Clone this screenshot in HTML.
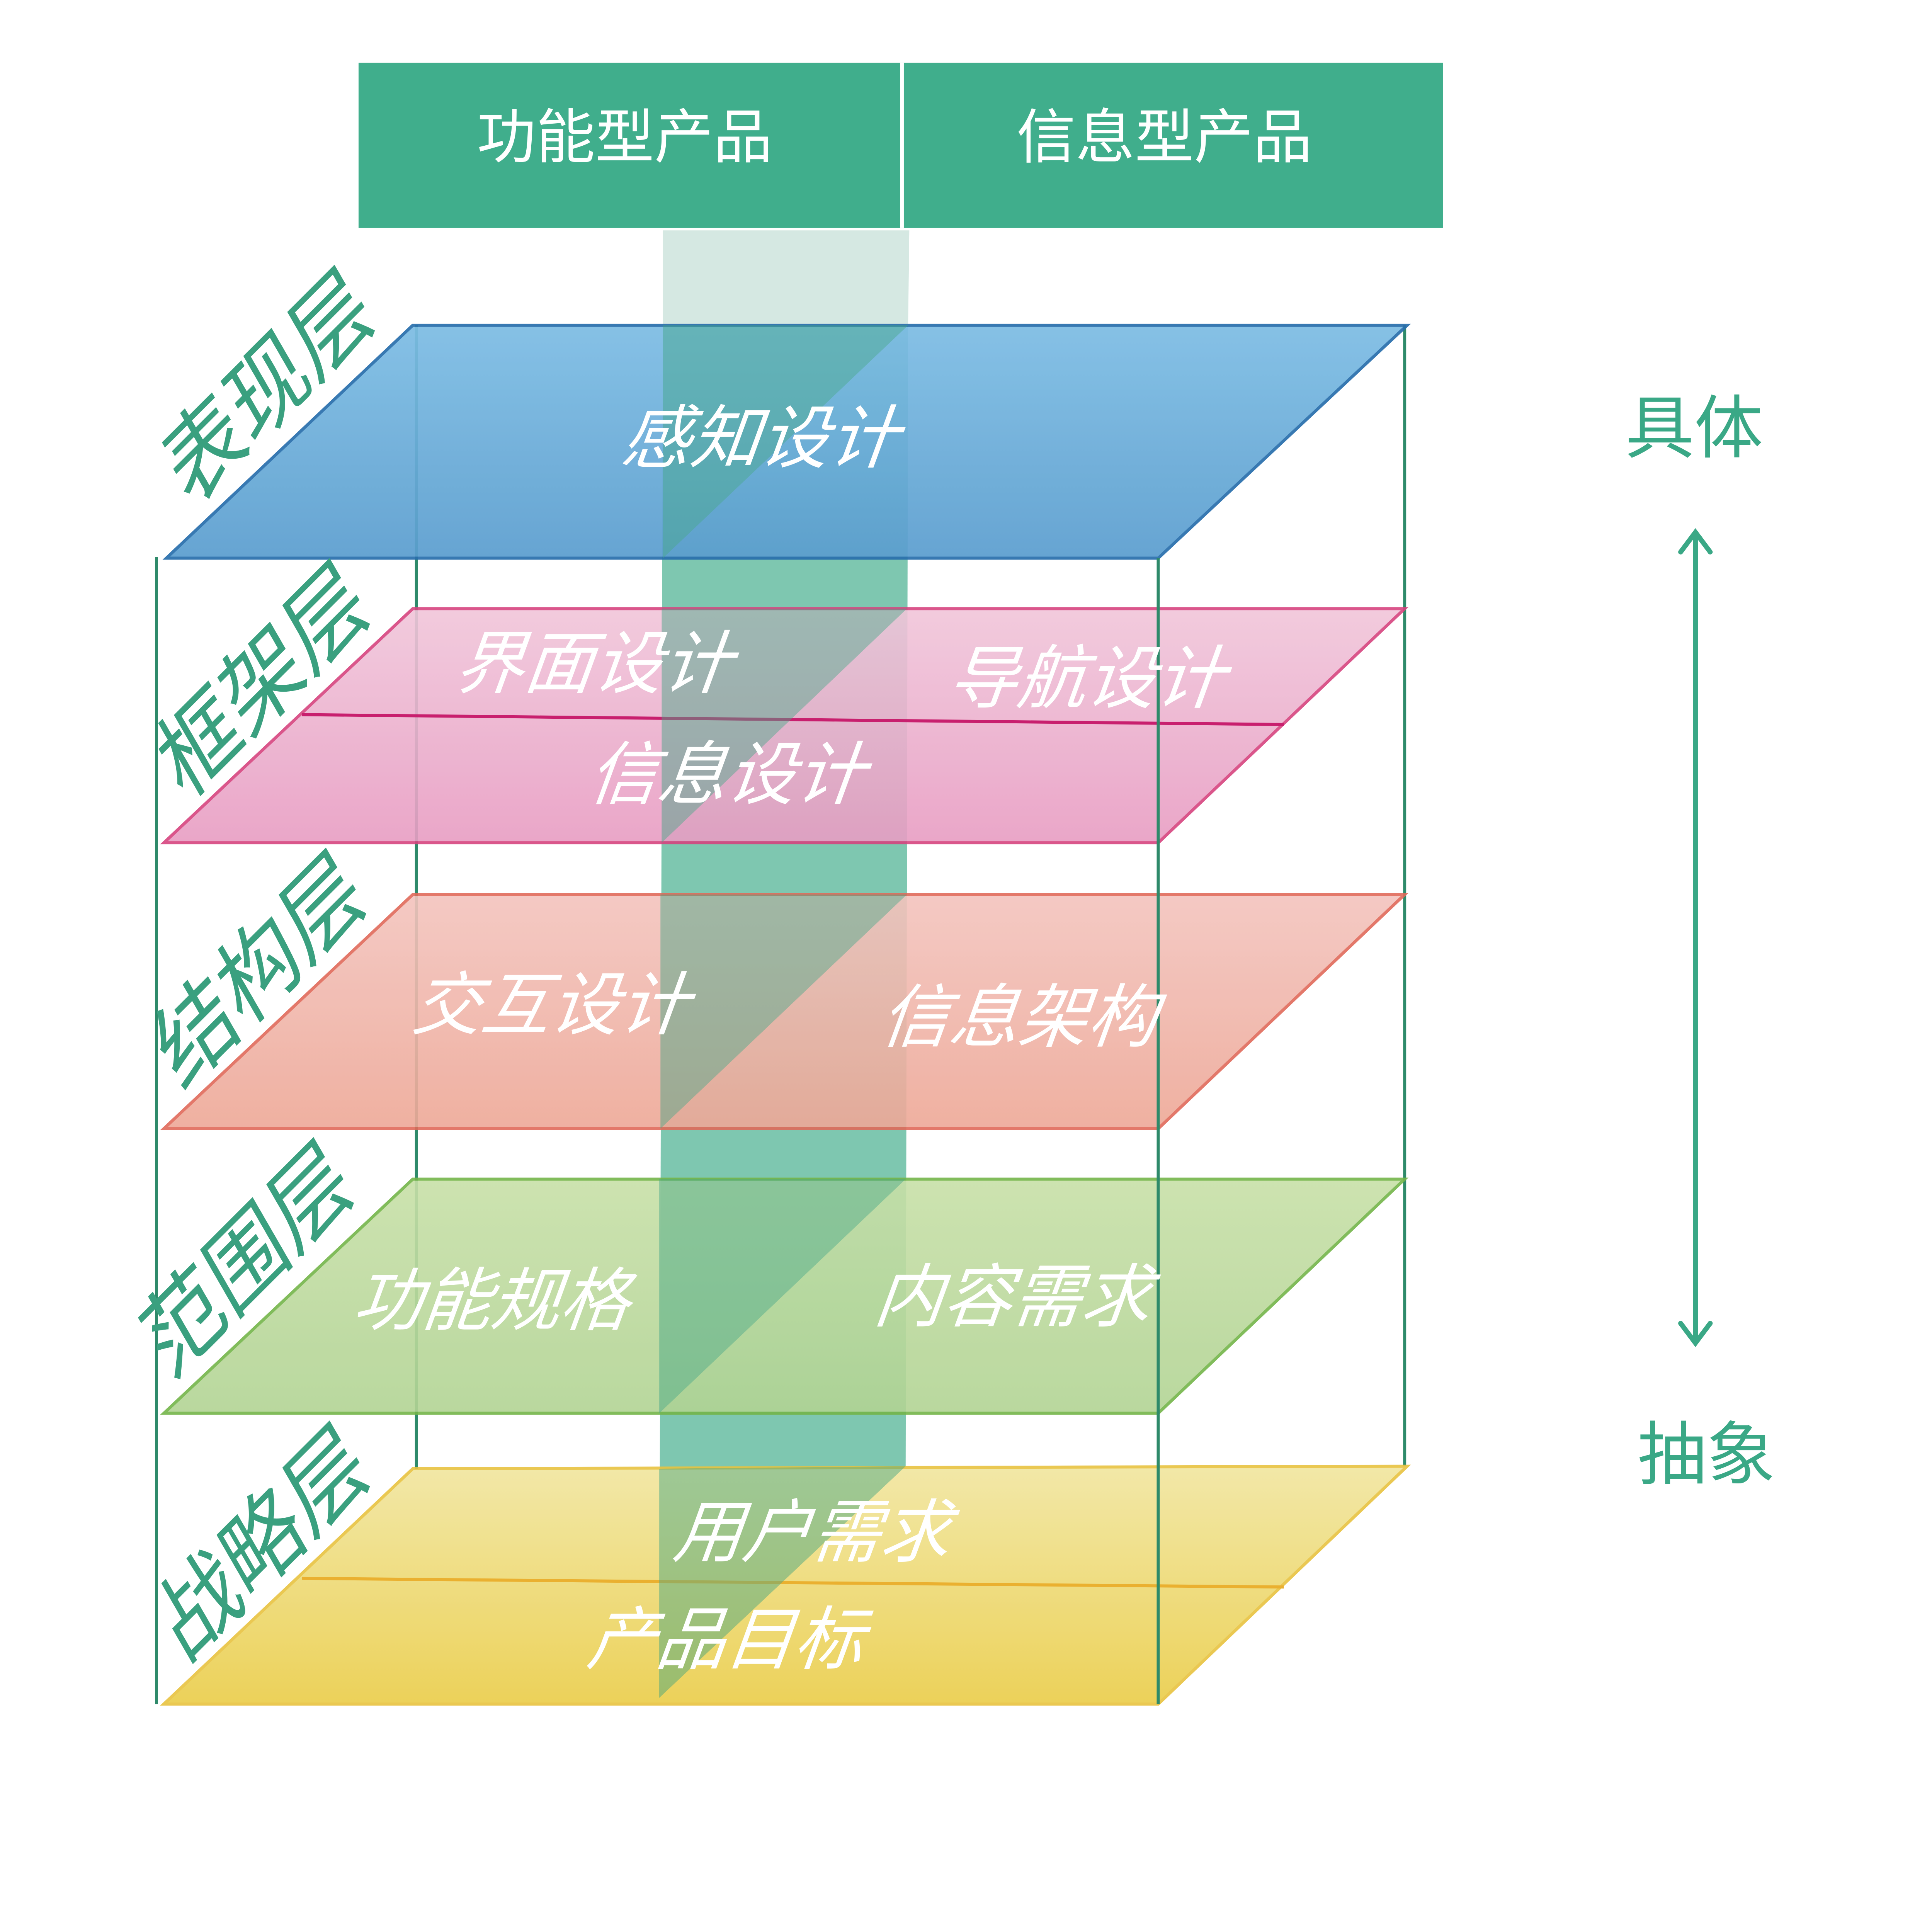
<!DOCTYPE html>
<html><head><meta charset="utf-8">
<style>
html,body{margin:0;padding:0;background:#fff;overflow:hidden;width:100%;height:100%;}
svg{display:block;position:fixed;left:0;top:0;width:100vw;height:100vh;}
text{font-family:"Liberation Sans","Noto Sans CJK SC",sans-serif;}
</style></head>
<body>
<svg xmlns="http://www.w3.org/2000/svg" viewBox="0 0 1568 1568" preserveAspectRatio="none">
<defs>
<linearGradient id="gb" x1="0" y1="0" x2="0" y2="1"><stop offset="0" stop-color="#7dbde4"/><stop offset="1" stop-color="#5b9ecf"/></linearGradient>
<linearGradient id="gp" x1="0" y1="0" x2="0" y2="1"><stop offset="0" stop-color="#f1c6da"/><stop offset="1" stop-color="#e89dc3"/></linearGradient>
<linearGradient id="gs" x1="0" y1="0" x2="0" y2="1"><stop offset="0" stop-color="#f3c4be"/><stop offset="1" stop-color="#eea897"/></linearGradient>
<linearGradient id="gg" x1="0" y1="0" x2="0" y2="1"><stop offset="0" stop-color="#c8e0a8"/><stop offset="1" stop-color="#b2d494"/></linearGradient>
<linearGradient id="gy" x1="0" y1="0" x2="0" y2="1"><stop offset="0" stop-color="#f1e69f"/><stop offset="1" stop-color="#ebcd48"/></linearGradient>
</defs>
<rect width="1568" height="1568" fill="#fff"/>
<rect x="291" y="51" width="880" height="134" fill="#40ae8c"/>
<line x1="732" y1="51" x2="732" y2="185" stroke="#fff" stroke-width="3"/>
<text x="507" y="128" font-size="48" fill="#fff" text-anchor="middle">功能型产品</text>
<text x="945" y="128" font-size="48" fill="#fff" text-anchor="middle">信息型产品</text>
<polygon points="538,187 738,187 737,264 538,264" fill="#d5e8e2"/>
<polygon points="538,264 737,264 735,1190 535,1378" fill="#5ab79a" opacity="0.78"/>
<g stroke="#2e8a6a" stroke-width="2.5">
<line x1="338" y1="264" x2="338" y2="1192"/>
<line x1="1140" y1="264" x2="1140" y2="1190"/>
</g>
<polygon points="135,453 335,264 1142,264 940,453" fill="url(#gb)" opacity="0.93" stroke="#2a6fad" stroke-width="2.5"/>
<polygon points="133,684 335,494 1140,494 940,684" fill="url(#gp)" opacity="0.9" stroke="#d6447f" stroke-width="2.5"/>
<line x1="245" y1="580" x2="1042" y2="588" stroke="#c81f6e" stroke-width="2.5"/>
<polygon points="133,916 335,726 1140,726 940,916" fill="url(#gs)" opacity="0.9" stroke="#e06a5a" stroke-width="2.5"/>
<polygon points="133,1147 335,957 1140,957 940,1147" fill="url(#gg)" opacity="0.9" stroke="#74b54a" stroke-width="2.5"/>
<polygon points="133,1383 335,1192 1142,1190 940,1383" fill="url(#gy)" opacity="0.9" stroke="#e8c340" stroke-width="2.5"/>
<line x1="245" y1="1281" x2="1042" y2="1288" stroke="#eab030" stroke-width="2.5"/>
<g fill="#4aa88a" opacity="0.45">
<polygon points="538,264 737,264 538,453"/>
<polygon points="537,494 736,494 537,684"/>
<polygon points="536,726 736,726 536,916"/>
<polygon points="535,957 735,957 535,1147"/>
<polygon points="535,1192 735,1190 535,1378"/>
</g>
<g stroke="#2e8a6a" stroke-width="2.5">
<line x1="127" y1="452" x2="127" y2="1383"/>
<line x1="940" y1="453" x2="940" y2="1383"/>
</g>
<g font-size="56" fill="#fff" text-anchor="middle">
<text transform="translate(615,375) skewX(-20)">感知设计</text>
<text transform="translate(480,558) skewX(-20)">界面设计</text>
<text transform="translate(880,570) skewX(-20)">导航设计</text>
<text transform="translate(588,648) skewX(-20)">信息设计</text>
<text transform="translate(445,835) skewX(-20)">交互设计</text>
<text transform="translate(825,845) skewX(-20)">信息架构</text>
<text transform="translate(397,1075) skewX(-20)">功能规格</text>
<text transform="translate(820,1072) skewX(-20)">内容需求</text>
<text transform="translate(657,1263) skewX(-20)">用户需求</text>
<text transform="translate(587,1350) skewX(-20)">产品目标</text>
</g>
<g font-size="72" fill="#3aa07f" text-anchor="middle">
<text transform="translate(218,315) rotate(-45) skewX(-15) translate(0,24)">表现层</text>
<text transform="translate(214,553) rotate(-45) skewX(-15) translate(0,24)">框架层</text>
<text transform="translate(211,788) rotate(-45) skewX(-15) translate(0,24)">结构层</text>
<text transform="translate(201,1023) rotate(-45) skewX(-15) translate(0,24)">范围层</text>
<text transform="translate(214,1253) rotate(-45) skewX(-15) translate(0,24)">战略层</text>
</g>
<text x="1375" y="367" font-size="56" fill="#3aa886" text-anchor="middle">具体</text>
<text x="1385" y="1200" font-size="56" fill="#3aa886" text-anchor="middle">抽象</text>
<g stroke="#3aa886" stroke-width="4" fill="none" stroke-linecap="round">
<line x1="1376" y1="434" x2="1376" y2="1088"/>
<polyline points="1364,448 1376,432 1388,448"/>
<polyline points="1364,1074 1376,1090 1388,1074"/>
</g>
</svg>
</body></html>
